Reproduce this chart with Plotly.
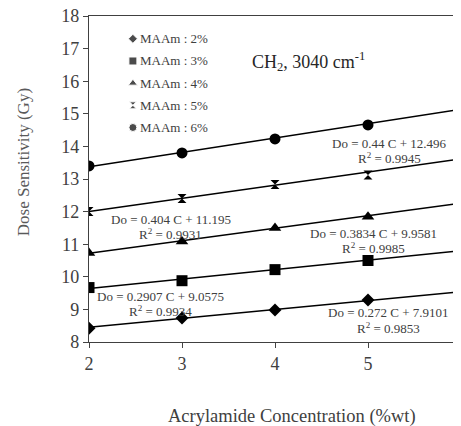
import plotly.graph_objects as go

conc = [2, 3, 4, 5, 6]
series_names = ["MAAm : 2%", "MAAm : 3%", "MAAm : 4%", "MAAm : 5%", "MAAm : 6%"]
vals_2 = [8.42, 8.74, 8.98, 9.29, 9.49]
vals_3 = [9.67, 9.88, 10.22, 10.50, 10.80]
vals_4 = [10.73, 11.08, 11.50, 11.84, 12.27]
vals_5 = [12.00, 12.40, 12.83, 13.12, 13.65]
vals_6 = [13.40, 13.80, 14.23, 14.66, 15.18]
slopes = [0.272, 0.2907, 0.3834, 0.404, 0.44]
intercepts = [7.9101, 9.0575, 9.9581, 11.195, 12.496]
r2 = [0.9853, 0.9934, 0.9985, 0.9931, 0.9945]

# label placement (data coords of first line centre)
eq_x = [5.22, 2.77, 5.06, 2.88, 5.23]
eq_y = [8.89, 9.41, 11.34, 11.77, 14.10]

all_vals = [vals_2, vals_3, vals_4, vals_5, vals_6]
symbols = ["diamond", "square", "triangle-up", "hourglass", "circle"]
sizes = [10, 11, 11, 9, 11]
leg_sizes = [7, 8, 8, 7, 8]

serif = "Liberation Serif, DejaVu Serif, serif"
txt = "#404040"
fig = go.Figure()

for i, v in enumerate(all_vals):
    fit = [slopes[i] * c + intercepts[i] for c in conc]
    fig.add_trace(go.Scatter(x=conc, y=fit, mode="lines",
                             line=dict(color="black", width=1.5),
                             showlegend=False, hoverinfo="skip"))
for i, v in enumerate(all_vals):
    fig.add_trace(go.Scatter(x=conc, y=v, mode="markers", name=series_names[i],
                             showlegend=False,
                             marker=dict(symbol=symbols[i], size=sizes[i], color="black")))

# legend drawn on an overlay axis in paper-like units
leg_y = [0.93, 0.862, 0.794, 0.726, 0.658]
leg_x = 0.118
fig.add_trace(go.Scatter(x=[leg_x] * 5, y=leg_y, mode="markers", xaxis="x2", yaxis="y2",
                         marker=dict(symbol=symbols, size=leg_sizes, color="black"),
                         showlegend=False, hoverinfo="skip", cliponaxis=False))
for i in range(5):
    fig.add_annotation(x=leg_x + 0.014, y=leg_y[i], xref="x2", yref="y2",
                       text=series_names[i], showarrow=False, xanchor="left",
                       yanchor="middle", font=dict(family=serif, size=13, color=txt))

# equation annotations
for i in range(5):
    fig.add_annotation(x=eq_x[i], y=eq_y[i], xref="x", yref="y",
                       text=f"Do = {slopes[i]:g} C + {intercepts[i]:g}",
                       showarrow=False, yanchor="middle",
                       font=dict(family=serif, size=13, color=txt))
    fig.add_annotation(x=eq_x[i], y=eq_y[i], xref="x", yref="y", yshift=-15,
                       text=f"R<sup>2</sup> = {r2[i]:.4f}",
                       showarrow=False, yanchor="middle",
                       font=dict(family=serif, size=13, color=txt))

fig.add_annotation(x=0.433, y=0.86, xref="paper", yref="paper",
                   text="CH<sub>2</sub>, 3040 cm<sup>-1</sup>", showarrow=False,
                   xanchor="left", yanchor="middle",
                   font=dict(family=serif, size=18, color="#262626"))

# axis titles
fig.add_annotation(x=0.546, y=-0.23, xref="paper", yref="paper",
                   text="Acrylamide Concentration (%wt)", showarrow=False,
                   xanchor="center", yanchor="middle",
                   font=dict(family=serif, size=18.5, color=txt))
fig.add_annotation(x=-0.176, y=0.55, xref="paper", yref="paper",
                   text="Dose Sensitivity (Gy)", showarrow=False, textangle=-90,
                   xanchor="center", yanchor="middle",
                   font=dict(family=serif, size=17, color="#595959"))

# page body adds an 8px offset, so the figure is sized to fit the window
fig.update_layout(
    width=453, height=418,
    margin=dict(l=81, r=0, t=8, b=84),
    paper_bgcolor="white", plot_bgcolor="white",
    font=dict(family=serif, color=txt),
    showlegend=False,
    xaxis=dict(range=[2, 6], tickvals=conc, ticks="outside", ticklen=5,
               showgrid=False, zeroline=False, showline=True, linecolor="#404040",
               mirror=True, linewidth=1.2, automargin=False, ticklabeloverflow="allow",
               tickfont=dict(family=serif, size=18, color=txt)),
    yaxis=dict(range=[8, 18], dtick=1, ticks="outside", ticklen=5,
               showgrid=False, zeroline=False, showline=True, linecolor="#404040",
               mirror=True, linewidth=1.2, automargin=False, ticklabeloverflow="allow",
               tickfont=dict(family=serif, size=18, color=txt)),
    xaxis2=dict(range=[0, 1], overlaying="x", visible=False, fixedrange=True),
    yaxis2=dict(range=[0, 1], overlaying="y", visible=False, fixedrange=True),
)

fig.write_html("out.html")
